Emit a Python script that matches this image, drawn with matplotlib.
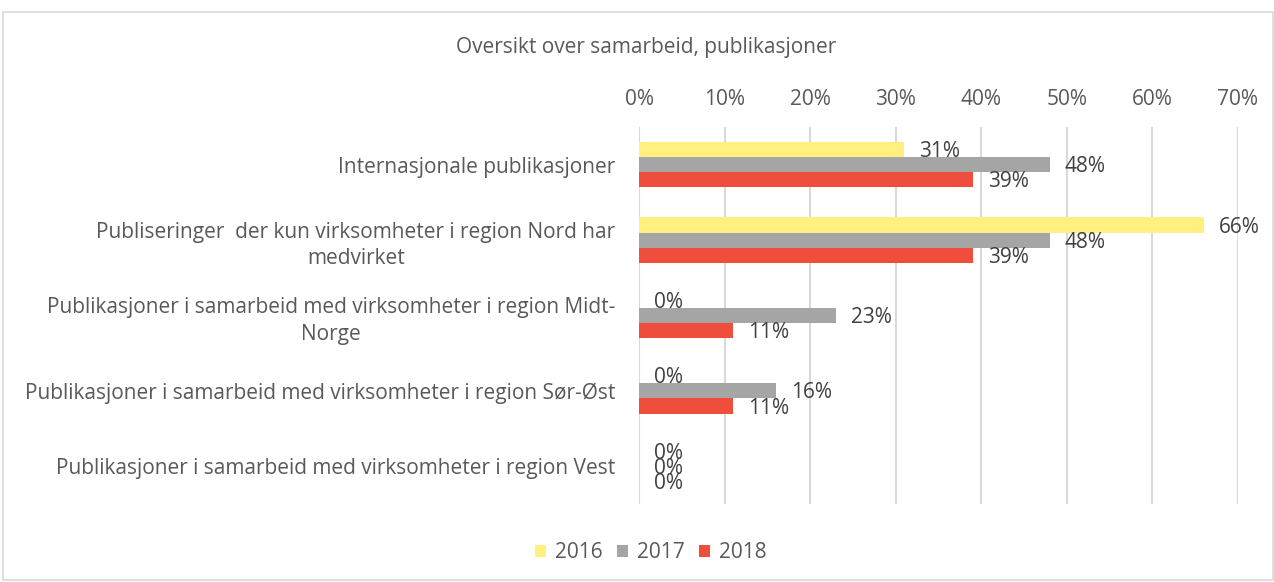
import matplotlib
matplotlib.use("Agg")
import matplotlib.pyplot as plt
from matplotlib.patches import Rectangle
import numpy as np

plt.rcParams['font.family'] = ['Open Sans', 'DejaVu Sans']

categories = [
    "Internasjonale publikasjoner",
    "Publiseringer  der kun virksomheter i region Nord har\nmedvirket",
    "Publikasjoner i samarbeid med virksomheter i region Midt-\nNorge",
    "Publikasjoner i samarbeid med virksomheter i region Sør-Øst",
    "Publikasjoner i samarbeid med virksomheter i region Vest",
]
years = ["2016", "2017", "2018"]
v2016 = [31, 66, 0, 0, 0]
v2017 = [48, 48, 23, 16, 0]
v2018 = [39, 39, 11, 11, 0]
series = [v2016, v2017, v2018]
colors = ["#FFF07F", "#A5A5A5", "#EF4E3D"]
ticks = [0, 10, 20, 30, 40, 50, 60, 70]

FS = 15
txt = "#595959"
W, H = 1274, 582
fig = plt.figure(figsize=(W / 100, H / 100), dpi=100)
ax = fig.add_axes([639 / W, 1 - 504 / H, (1238 - 639) / W, (504 - 127) / H])

y = np.arange(len(categories))
bh = 0.2
offsets = [-bh, 0, bh]
for vals, col, off, lab in zip(series, colors, offsets, years):
    ax.barh(y + off, vals, height=bh, color=col, label=lab, zorder=3)
    for yy, v in zip(y + off, vals):
        ax.annotate(f"{v}%", xy=(v, yy), xytext=(15 * 0.72, -1.5), textcoords="offset points",
                    ha="left", va="center", fontsize=FS, color="#404040")

ax.set_xlim(0, 70)
ax.set_ylim(len(categories) - 0.5, -0.5)
ax.set_xticks(ticks)
ax.set_xticklabels([f"{t}%" for t in ticks], fontsize=FS, color=txt)
ax.xaxis.tick_top()
ax.tick_params(axis="x", length=0, pad=12)
ax.set_yticks(y)
ax.set_yticklabels(categories, fontsize=FS, color=txt, multialignment="center",
                   linespacing=1.35)
ax.tick_params(axis="y", length=0, pad=17)
ax.grid(axis="x", color="#D9D9D9", linewidth=1.5, zorder=0)
for s in ax.spines.values():
    s.set_visible(False)

fig.text(646 / W, 1 - 47 / H, "Oversikt over samarbeid, publikasjoner",
         ha="center", va="center", fontsize=FS, color=txt)

leg = fig.legend(loc="center", bbox_to_anchor=(651 / W, 1 - 553 / H), ncol=3, frameon=False,
                 fontsize=FS, handlelength=0.5, handleheight=0.5, handletextpad=0.45,
                 columnspacing=0.7)
for t in leg.get_texts():
    t.set_color(txt)

fig.patches.append(Rectangle((3 / W, 2 / H), (W - 4) / W, (H - 14) / H, transform=fig.transFigure,
                             fill=False, edgecolor="#D9D9D9", linewidth=1.2))

fig.savefig("out.png", dpi=100)
